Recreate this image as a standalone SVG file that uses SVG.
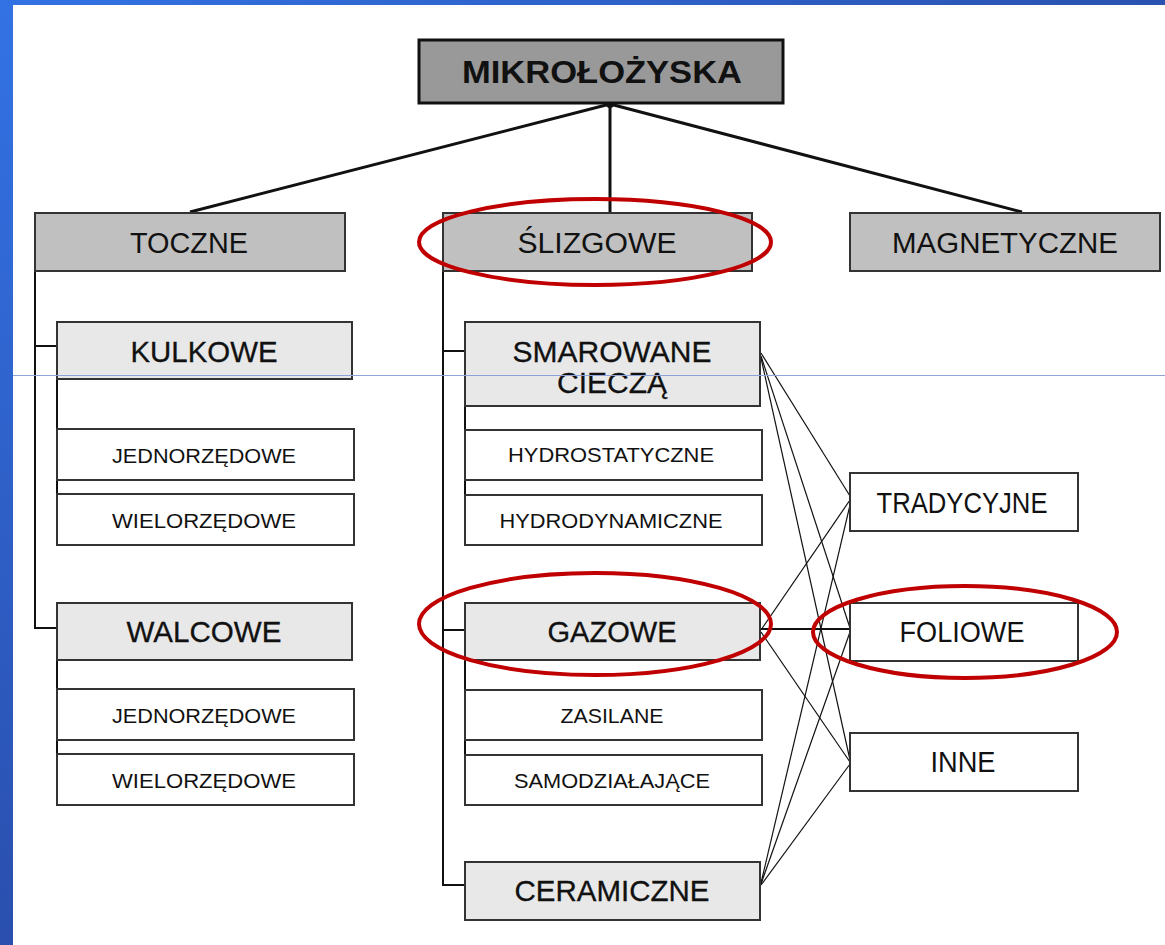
<svg xmlns="http://www.w3.org/2000/svg" width="1165" height="945" viewBox="0 0 1165 945">
<defs>
<linearGradient id="bandL" x1="0" y1="0" x2="0" y2="1">
<stop offset="0" stop-color="#3372e4"/>
<stop offset="1" stop-color="#2a4fae"/>
</linearGradient>
<linearGradient id="bandT" x1="0" y1="0" x2="1" y2="0">
<stop offset="0" stop-color="#3372e4"/>
<stop offset="1" stop-color="#2a52b0"/>
</linearGradient>
<style>
.box{stroke:#333;stroke-width:2}
.top{fill:#999;stroke:#111;stroke-width:3}
.l2{fill:#c0c0c0}
.l3{fill:#e8e8e8}
.leaf{fill:#fff}
text{font-family:"Liberation Sans",Arial,sans-serif;text-anchor:middle;fill:#111}
.big{font-size:29px}
.med{font-size:29px;stroke:#111;stroke-width:0.3}
.sm{font-size:21px}
.wire{stroke:#111;fill:none}
.oval{fill:none;stroke:#c00000;stroke-width:4}
</style>
</defs>
<rect x="0" y="0" width="1165" height="945" fill="#fff"/>
<rect x="0" y="0" width="1165" height="5" fill="url(#bandT)"/>
<rect x="0" y="0" width="13" height="945" fill="url(#bandL)"/>

<g id="connectors">
<g class="wire" stroke-width="3">
<line x1="610" y1="104" x2="190" y2="212"/>
<line x1="610" y1="104" x2="610" y2="213"/>
<line x1="610" y1="104" x2="1022" y2="212"/>
</g>
<circle cx="610" cy="104" r="4" fill="#111"/>
<g class="wire" stroke-width="2">
<polyline points="35,271 35,628 57,628"/>
<line x1="35" y1="346" x2="57" y2="346"/>
<line x1="57" y1="379" x2="57" y2="429"/>
<line x1="57" y1="480" x2="57" y2="494"/>
<line x1="57" y1="660" x2="57" y2="689"/>
<line x1="57" y1="740" x2="57" y2="754"/>
<polyline points="443,271 443,885 465,885"/>
<line x1="443" y1="351" x2="465" y2="351"/>
<line x1="443" y1="630" x2="465" y2="630"/>
<line x1="465" y1="406" x2="465" y2="430"/>
<line x1="465" y1="480" x2="465" y2="495"/>
<line x1="465" y1="660" x2="465" y2="690"/>
<line x1="465" y1="740" x2="465" y2="755"/>
<line x1="761" y1="629" x2="850" y2="629"/>
</g>
<g class="wire" stroke-width="1.2">
<line x1="761" y1="353" x2="850" y2="496"/>
<line x1="761" y1="356" x2="850" y2="628"/>
<line x1="761" y1="358" x2="850" y2="760"/>
<line x1="761" y1="630" x2="850" y2="500"/>
<line x1="761" y1="632" x2="850" y2="762"/>
<line x1="761" y1="883" x2="850" y2="505"/>
<line x1="761" y1="884" x2="850" y2="632"/>
<line x1="761" y1="885" x2="850" y2="764"/>
</g>
</g>

<g id="mikrolozyska"><rect class="top" x="419" y="40" width="364" height="63"/><text x="602" y="83" font-size="32" font-weight="bold" textLength="280" lengthAdjust="spacingAndGlyphs">MIKROŁOŻYSKA</text></g>
<g id="toczne"><rect class="box l2" x="35" y="213" width="310" height="58"/><text class="big" x="189" y="253" textLength="118" lengthAdjust="spacingAndGlyphs">TOCZNE</text></g>
<g id="slizgowe"><rect class="box l2" x="443" y="213" width="309" height="58"/><text class="big" x="597" y="253" textLength="159" lengthAdjust="spacingAndGlyphs">ŚLIZGOWE</text></g>
<g id="magnetyczne"><rect class="box l2" x="850" y="213" width="310" height="58"/><text class="big" x="1005" y="253" textLength="226" lengthAdjust="spacingAndGlyphs">MAGNETYCZNE</text></g>

<g id="kulkowe"><rect class="box l3" x="57" y="322" width="295" height="57"/><text class="med" x="204" y="362" textLength="147" lengthAdjust="spacingAndGlyphs">KULKOWE</text></g>
<g id="jedno1"><rect class="box leaf" x="57" y="429" width="297" height="51"/><text class="sm" x="204" y="463" textLength="184" lengthAdjust="spacingAndGlyphs">JEDNORZĘDOWE</text></g>
<g id="wielo1"><rect class="box leaf" x="57" y="494" width="297" height="51"/><text class="sm" x="204" y="528" textLength="184" lengthAdjust="spacingAndGlyphs">WIELORZĘDOWE</text></g>
<g id="walcowe"><rect class="box l3" x="57" y="603" width="295" height="57"/><text class="med" x="204" y="642" textLength="155" lengthAdjust="spacingAndGlyphs">WALCOWE</text></g>
<g id="jedno2"><rect class="box leaf" x="57" y="689" width="297" height="51"/><text class="sm" x="204" y="723" textLength="184" lengthAdjust="spacingAndGlyphs">JEDNORZĘDOWE</text></g>
<g id="wielo2"><rect class="box leaf" x="57" y="754" width="297" height="51"/><text class="sm" x="204" y="788" textLength="184" lengthAdjust="spacingAndGlyphs">WIELORZĘDOWE</text></g>

<g id="smarowane"><rect class="box l3" x="465" y="322" width="295" height="84"/><text class="med" x="612" y="362" textLength="199" lengthAdjust="spacingAndGlyphs">SMAROWANE</text><text class="med" x="612" y="393" textLength="110" lengthAdjust="spacingAndGlyphs">CIECZĄ</text></g>
<g id="hydrostatyczne"><rect class="box leaf" x="465" y="430" width="297" height="50"/><text class="sm" x="611" y="462" textLength="206" lengthAdjust="spacingAndGlyphs">HYDROSTATYCZNE</text></g>
<g id="hydrodynamiczne"><rect class="box leaf" x="465" y="495" width="297" height="50"/><text class="sm" x="611" y="528" textLength="223" lengthAdjust="spacingAndGlyphs">HYDRODYNAMICZNE</text></g>
<g id="gazowe"><rect class="box l3" x="465" y="603" width="295" height="57"/><text class="med" x="612" y="642" textLength="129" lengthAdjust="spacingAndGlyphs">GAZOWE</text></g>
<g id="zasilane"><rect class="box leaf" x="465" y="690" width="297" height="50"/><text class="sm" x="612" y="723" textLength="103" lengthAdjust="spacingAndGlyphs">ZASILANE</text></g>
<g id="samodzialajace"><rect class="box leaf" x="465" y="755" width="297" height="50"/><text class="sm" x="612" y="788" textLength="196" lengthAdjust="spacingAndGlyphs">SAMODZIAŁAJĄCE</text></g>
<g id="ceramiczne"><rect class="box l3" x="465" y="862" width="295" height="58"/><text class="med" x="612" y="901" textLength="195" lengthAdjust="spacingAndGlyphs">CERAMICZNE</text></g>

<g id="tradycyjne"><rect class="box leaf" x="850" y="473" width="228" height="58"/><text class="big" x="962" y="513" textLength="171" lengthAdjust="spacingAndGlyphs">TRADYCYJNE</text></g>
<g id="foliowe"><rect class="box leaf" x="850" y="603" width="228" height="58"/><text class="big" x="962" y="642" textLength="125" lengthAdjust="spacingAndGlyphs">FOLIOWE</text></g>
<g id="inne"><rect class="box leaf" x="850" y="733" width="228" height="58"/><text class="big" x="963" y="772" textLength="65" lengthAdjust="spacingAndGlyphs">INNE</text></g>

<g id="highlights">
<ellipse class="oval" cx="595" cy="242" rx="176" ry="43"/>
<ellipse class="oval" cx="595" cy="624" rx="176" ry="51"/>
<ellipse class="oval" cx="965" cy="632" rx="152" ry="46"/>
</g>
<line x1="13" y1="375.5" x2="1165" y2="375.5" stroke="#8fa3d8" stroke-width="1"/>
</svg>
